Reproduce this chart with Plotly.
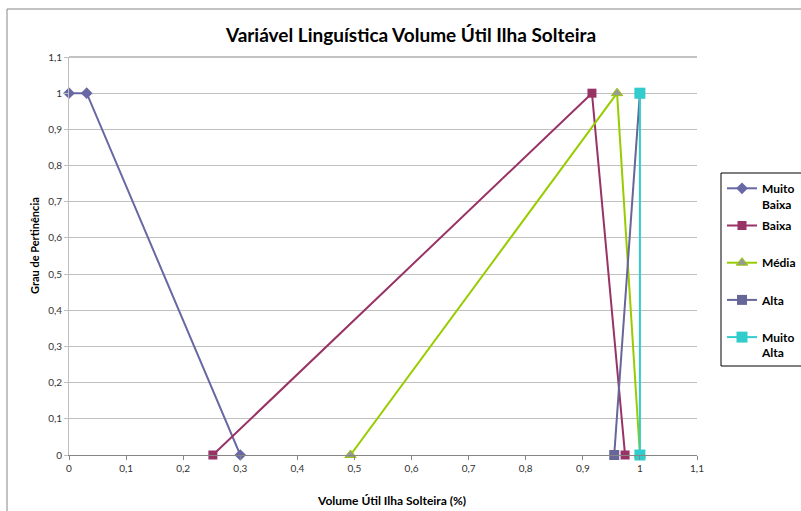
import plotly.graph_objects as go

# Data
mb_x = [0, 0.031, 0.30]
mb_y = [1, 1, 0]
b_x = [0.252, 0.916, 0.974]
b_y = [0, 1, 0]
m_x = [0.493, 0.96, 1.0]
m_y = [0, 1, 0]
a_x = [0.955, 1.0]
a_y = [0, 1]
ma_x = [1.0, 1.0]
ma_y = [1, 0]

x_ticks = [0, 0.1, 0.2, 0.3, 0.4, 0.5, 0.6, 0.7, 0.8, 0.9, 1.0, 1.1]
x_labels = ["0", "0,1", "0,2", "0,3", "0,4", "0,5", "0,6", "0,7", "0,8", "0,9", "1", "1,1"]
y_ticks = [0, 0.1, 0.2, 0.3, 0.4, 0.5, 0.6, 0.7, 0.8, 0.9, 1.0, 1.1]
y_labels = ["0", "0,1", "0,2", "0,3", "0,4", "0,5", "0,6", "0,7", "0,8", "0,9", "1", "1,1"]

FONT = "Lato, 'Open Sans', sans-serif"

fig = go.Figure()
series = [
    ("<b>Muito</b><br><b>Baixa</b>", mb_x, mb_y, "#6868A4", dict(symbol="diamond", size=9, color="#6868A4")),
    ("<b>Baixa</b><br> ", b_x, b_y, "#993366", dict(symbol="square", size=9, color="#993366")),
    ("<b>Média</b><br> ", m_x, m_y, "#99CC00", dict(symbol="triangle-up", size=10, color="#999999",
                                          line=dict(color="#99CC00", width=1))),
    ("<b>Alta</b><br> ", a_x, a_y, "#666699", dict(symbol="square", size=10, color="#666699")),
    ("<b>Muito</b><br><b>Alta</b>", ma_x, ma_y, "#33CCCC", dict(symbol="square", size=11, color="#33CCCC")),
]
for i, (name, xs, ys, col, mk) in enumerate(series):
    fig.add_trace(go.Scatter(
        x=xs, y=ys, name=name, mode="lines+markers",
        line=dict(color=col, width=2), marker=mk,
        legendgroup=f"g{i}", cliponaxis=False,
    ))

fig.update_layout(
    width=801, height=511,
    margin=dict(l=69, r=104, t=57, b=56, autoexpand=False),
    paper_bgcolor="white", plot_bgcolor="white",
    title=dict(text="<b>Variável Linguística Volume Útil Ilha Solteira</b>",
               x=(411 - 69) / 628, xanchor="center", xref="paper",
               y=1 - 35 / 511, yanchor="middle",
               font=dict(family=FONT, size=19, color="black")),
    font=dict(family=FONT, size=10, color="#333333"),
    showlegend=True,
    legend=dict(x=(722 - 69) / 628, xanchor="left", y=(455 - 174) / 398, yanchor="top",
                bgcolor="rgba(0,0,0,0)", borderwidth=0,
                font=dict(family=FONT, size=12, color="black"),
                valign="top", tracegroupgap=3, itemwidth=30),
    xaxis=dict(range=[0, 1.1], tickvals=x_ticks, ticktext=x_labels,
               showgrid=False, zeroline=False, showline=True, linecolor="#868686",
               linewidth=1, ticks="outside", ticklen=4, tickcolor="#868686",
               tickfont=dict(size=10, color="#333333")),
    yaxis=dict(range=[0, 1.1], tickvals=y_ticks, ticktext=y_labels,
               showgrid=True, gridcolor="#C0C0C0", gridwidth=1,
               zeroline=False, showline=True, linecolor="#BEBEBE", linewidth=1,
               ticks="outside", ticklen=4, tickcolor="#BEBEBE",
               tickfont=dict(size=10, color="#333333")),
    annotations=[
        dict(text="<b>Volume Útil Ilha Solteira (%)</b>", xref="paper", yref="paper",
             x=(391 - 69) / 628, y=(455 - 500) / 398, xanchor="center", yanchor="middle",
             showarrow=False, font=dict(family=FONT, size=12, color="black")),
        dict(text="<b>Grau de Pertinência</b>", xref="paper", yref="paper",
             x=(34 - 69) / 628, y=(455 - 246) / 398, xanchor="center", yanchor="middle",
             textangle=-90, showarrow=False, font=dict(family=FONT, size=11, color="black")),
    ],
    shapes=[
        dict(type="rect", xref="paper", yref="paper",
             x0=(7 - 69) / 628, x1=(810 - 69) / 628,
             y0=(455 - 520) / 398, y1=(455 - 9) / 398,
             line=dict(color="#868686", width=1), fillcolor="rgba(0,0,0,0)", layer="below"),
        dict(type="line", xref="paper", yref="paper", x0=0, x1=1, y0=1, y1=1,
             line=dict(color="#868686", width=1), layer="below"),
        dict(type="rect", xref="paper", yref="paper",
             x0=(721 - 69) / 628, x1=(815 - 69) / 628,
             y0=(455 - 366) / 398, y1=(455 - 173) / 398,
             line=dict(color="#000000", width=1), fillcolor="white", layer="below"),
    ],
)

fig.write_html("out.html")
